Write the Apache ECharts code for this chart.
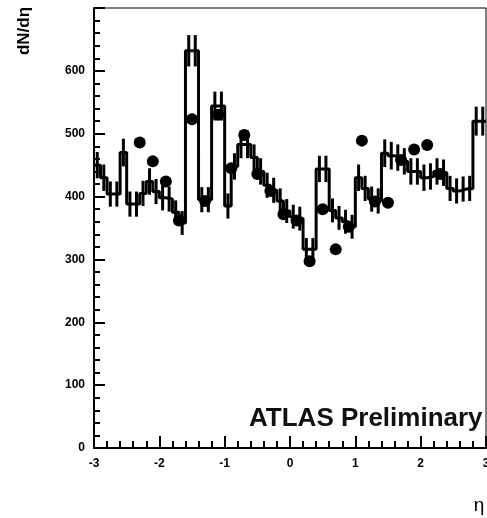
<!DOCTYPE html>
<html>
<head>
<meta charset="utf-8">
<script src="https://cdn.jsdelivr.net/npm/echarts@6/dist/echarts.min.js"></script>
<style>
  html, body { margin: 0; padding: 0; background: #fff; }
  #chart { width: 487px; height: 518px; }
</style>
</head>
<body>
<div id="chart"></div>
<script>
// Histogram bin edges in eta (60 bins of 0.1)
const binEdges = [
  -3.0, -2.9, -2.8, -2.7, -2.6, -2.5, -2.4, -2.3, -2.2, -2.1,
  -2.0, -1.9, -1.8, -1.7, -1.6, -1.5, -1.4, -1.3, -1.2, -1.1,
  -1.0, -0.9, -0.8, -0.7, -0.6, -0.5, -0.4, -0.3, -0.2, -0.1,
   0.0,  0.1,  0.2,  0.3,  0.4,  0.5,  0.6,  0.7,  0.8,  0.9,
   1.0,  1.1,  1.2,  1.3,  1.4,  1.5,  1.6,  1.7,  1.8,  1.9,
   2.0,  2.1,  2.2,  2.3,  2.4,  2.5,  2.6,  2.7,  2.8,  2.9,
   3.0
];

// dN/deta per bin
const binValues = [
  450, 430, 404, 404, 470, 388, 388, 405, 424, 408,
  398, 396, 375, 358, 632, 632, 395, 395, 544, 544,
  385, 448, 483, 483, 462, 440, 418, 410, 393, 377,
  368, 365, 316, 316, 444, 444, 378, 366, 360, 352,
  430, 413, 396, 393, 469, 465, 462, 456, 440, 440,
  430, 432, 440, 438, 413, 409, 412, 413, 520, 520
];

// Statistical uncertainty per bin
const binErrors = [
  21, 21, 20, 20, 22, 20, 20, 20, 21, 20,
  20, 20, 19, 19, 25, 25, 20, 20, 23, 23,
  20, 21, 22, 22, 21, 21, 20, 20, 20, 19,
  19, 19, 18, 18, 21, 21, 19, 19, 19, 19,
  21, 20, 20, 20, 22, 22, 21, 21, 21, 21,
  21, 21, 21, 21, 20, 20, 20, 20, 23, 23
];

// Second measurement, 0.2-wide bins
const pointEta = [
  -2.3, -2.1, -1.9, -1.7, -1.5, -1.3, -1.1, -0.9, -0.7, -0.5, -0.3, -0.1,
   0.1,  0.3,  0.5,  0.7,  0.9,  1.1,  1.3,  1.5,  1.7,  1.9,  2.1,  2.3
];
const pointValues = [
  486, 456, 424, 362, 523, 393, 530, 445, 498, 436, 409, 372,
  362, 297, 380, 316, 352, 489, 392, 390, 458, 475, 482, 436
];

const yTicks = [0, 100, 200, 300, 400, 500, 600];
const xTicks = [-3, -2, -1, 0, 1, 2, 3];

const FONT = '"Liberation Sans", Arial, Helvetica, sans-serif';

// Step outline: each bin's left edge carries its value, closed at the last edge
const stepData = binValues.map((v, i) => [binEdges[i], v]);
stepData.push([binEdges[binEdges.length - 1], binValues[binValues.length - 1]]);

// Error bars at bin centres
const errData = binValues.map((v, i) => [
  (binEdges[i] + binEdges[i + 1]) / 2, v, binErrors[i]
]);

const pointData = pointEta.map((e, i) => [e, pointValues[i]]);

const chart = echarts.init(document.getElementById('chart'), null, { renderer: 'canvas' });

chart.setOption({
  animation: false,
  backgroundColor: '#fff',
  grid: {
    left: 94, right: 1, top: 8, bottom: 70,
    outerBoundsMode: 'none',
    containLabel: false,
    show: true, borderColor: '#000', borderWidth: 1, backgroundColor: 'transparent'
  },
  xAxis: {
    type: 'value',
    min: xTicks[0], max: xTicks[xTicks.length - 1], interval: 1,
    axisLine: { show: true, onZero: false, lineStyle: { color: '#000', width: 2 } },
    axisTick: { show: true, inside: true, length: 12, lineStyle: { color: '#000', width: 2 } },
    minorTick: { show: true, splitNumber: 5, length: 7, lineStyle: { color: '#000', width: 2 } },
    splitLine: { show: false },
    axisLabel: {
      color: '#000', fontFamily: FONT, fontSize: 12, fontWeight: 'bold', margin: 10,
      hideOverlap: false,
      formatter: v => String(v)
    }
  },
  yAxis: {
    type: 'value',
    min: 0, max: 700, interval: 100,
    axisLine: { show: true, onZero: false, lineStyle: { color: '#000', width: 2 } },
    axisTick: { show: true, inside: true, length: 11, lineStyle: { color: '#000', width: 2 } },
    minorTick: { show: true, splitNumber: 5, length: 6, lineStyle: { color: '#000', width: 2 } },
    splitLine: { show: false },
    axisLabel: {
      color: '#000', fontFamily: FONT, fontSize: 12, fontWeight: 'bold', margin: 9,
      formatter: v => (yTicks.indexOf(v) >= 0 ? String(v) : '')
    }
  },
  series: [
    {
      type: 'line',
      data: stepData,
      step: 'end',
      symbol: 'none',
      lineStyle: { color: '#000', width: 3 },
      z: 3
    },
    {
      type: 'custom',
      data: errData,
      encode: { x: 0, y: 1 },
      renderItem: function (params, api) {
        const x = api.value(0), v = api.value(1), e = api.value(2);
        const lo = api.coord([x, v - e]);
        const hi = api.coord([x, v + e]);
        return {
          type: 'line',
          shape: { x1: lo[0], y1: lo[1], x2: hi[0], y2: hi[1] },
          style: { stroke: '#000', lineWidth: 3 }
        };
      },
      z: 4
    },
    {
      type: 'scatter',
      data: pointData,
      symbol: 'circle',
      symbolSize: 12,
      itemStyle: { color: '#000', opacity: 1 },
      z: 5
    }
  ],
  graphic: [
    {
      type: 'text',
      left: 249, top: 406,
      style: {
        text: 'ATLAS Preliminary',
        font: 'bold 26px ' + FONT,
        fill: '#111'
      },
      z: 10
    },
    {
      type: 'text',
      x: 24, y: 31,
      rotation: Math.PI / 2,
      style: {
        text: 'dN/dη',
        font: 'bold 17px ' + FONT,
        fill: '#000',
        align: 'center',
        verticalAlign: 'middle'
      },
      z: 10
    },
    {
      type: 'text',
      x: 479, y: 506,
      style: {
        text: 'η',
        font: '19px ' + FONT,
        fill: '#000',
        align: 'center',
        verticalAlign: 'middle'
      },
      z: 10
    }
  ]
});
</script>
</body>
</html>
